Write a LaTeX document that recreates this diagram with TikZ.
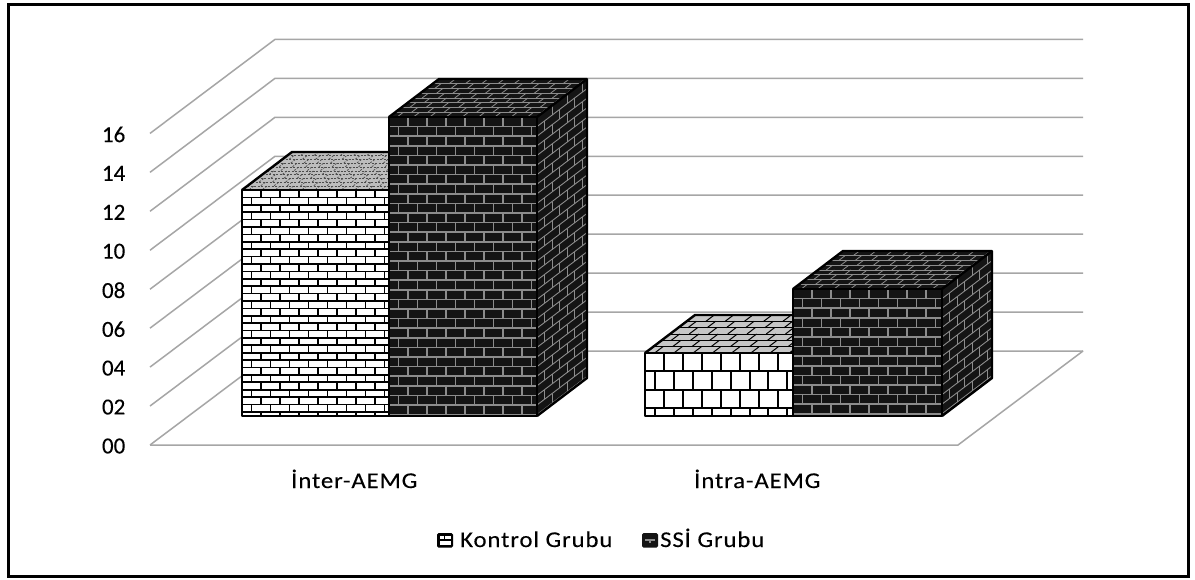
\documentclass[tikz,border=0pt]{standalone}
\usepackage{fontspec}
\setmainfont{Carlito}
\newfontfamily\labelfont{Carlito}[FakeStretch=1.1, LetterSpace=4, FakeBold=0.15]
\newfontfamily\tickfont{Carlito}[FakeBold=0.15]
\definecolor{gridgray}{HTML}{A6A6A6}
\definecolor{brickdark}{HTML}{141414}
\definecolor{mortargray}{HTML}{8C8C8C}
\definecolor{toplight}{HTML}{C6C6C6}
\definecolor{topdots}{HTML}{BDBDBD}
\tikzset{
  gridline/.style={gridgray, line width=1.5pt},
  barline/.style={black, line width=2.4pt, line join=round},
  ticklabel/.style={inner sep=0pt, anchor=east, font=\tickfont\fontsize{23}{27}\selectfont},
  catlabel/.style={inner sep=0pt, anchor=base west, font=\labelfont\fontsize{22.5}{27}\selectfont},
  legendtext/.style={inner sep=0pt, anchor=base west, font=\labelfont\fontsize{22.5}{27}\selectfont},
}
% one brick-patterned face: origin, edge vectors U and V, fill, mortar,
% row height and brick length (as fractions of the face), mortar width
\newcommand\bface[8]{%
  \begin{scope}[shift={#1}, x={#2}, y={#3}]
    \fill[#4] (0,0) -- (1,0) -- (1,1) -- (0,1) -- cycle;
    \clip (0,0) -- (1,0) -- (1,1) -- (0,1) -- cycle;
    \pgfmathsetmacro\bfNr{int(ceil(1/(#6)))}
    \pgfmathsetmacro\bfNc{int(ceil(1/(#7)))+1}
    \foreach \j in {0,...,\bfNr}{%
      \pgfmathsetmacro\bfA{1-\j*(#6)}
      \pgfmathsetmacro\bfB{1-(\j+1)*(#6)}
      \pgfmathsetmacro\bfO{mod(\j,2)*0.5}
      \draw[#5, line width=#8] (0,\bfA) -- (1,\bfA);
      \foreach \i in {0,...,\bfNc}{%
        \draw[#5, line width=#8] ({(\i+\bfO)*(#7)},\bfA) -- ({(\i+\bfO)*(#7)},\bfB);
      }
    }
  \end{scope}}
\begin{document}
\begin{tikzpicture}[x=1pt, y=-1pt]
\useasboundingbox (0,0) rectangle (1195,579);
\fill[white] (0,0) rectangle (1195,579);
% outer frame
\draw[line width=3pt] (8.5,4.5) rectangle (1188.5,576);

% walls, floor and value axis
\foreach \k in {0,...,8}{
  \pgfmathsetmacro\yf{445-38.95*\k}
  \pgfmathsetmacro\yb{351-38.95*\k}
  \draw[gridline] (150,\yf) -- (275,\yb) -- (1083,\yb);
  \node[ticklabel] (tick\k) at (125.5,\yf+1) {\ifnum\k<5 0\fi\the\numexpr2*\k\relax};
}
\coordinate (floorFL) at (150,445);
\coordinate (floorFR) at (958,445);
\coordinate (floorBR) at (1083,351);
\draw[gridline] (floorFL) -- (floorFR) -- (floorBR);

% Inter-AEMG, Kontrol Grubu
\bface{(242,416)}{(147pt,0pt)}{(0pt,226pt)}{white}{black}{7.4/226}{19/147}{1.7pt}
\bface{(242,190)}{(147pt,0pt)}{(50pt,38pt)}{topdots}{black!70, dash pattern=on 2pt off 1.5pt}{1/10}{0.09}{0.7pt}
\draw[barline] (242,416) rectangle (389,190);
\draw[barline] (242,190) -- ++(50,-38) -- ++(147,0) -- (389,190);

% Inter-AEMG, SSİ Grubu
\bface{(389,416)}{(148pt,0pt)}{(0pt,299pt)}{brickdark}{mortargray}{9.6/299}{19/148}{1.6pt}
\bface{(389,117)}{(148pt,0pt)}{(50pt,38pt)}{brickdark}{mortargray}{1/8}{0.11}{0.8pt}
\bface{(537,416)}{(50pt,38pt)}{(0pt,299pt)}{brickdark}{mortargray}{9.6/299}{0.3}{0.9pt}
\draw[barline] (389,416) rectangle (537,117);
\draw[barline] (389,117) -- ++(50,-38) -- ++(148,0) -- ++(0,299) -- ++(-50,38);
\draw[barline] (537,117) -- ++(50,-38);

% İntra-AEMG, Kontrol Grubu
\bface{(645,416)}{(148pt,0pt)}{(0pt,63pt)}{white}{black}{18.3/63}{19/148}{2pt}
\bface{(645,353)}{(148pt,0pt)}{(50pt,38pt)}{toplight}{black}{1/6}{0.13}{1pt}
\draw[barline] (645,416) rectangle (793,353);
\draw[barline] (645,353) -- ++(50,-38) -- ++(148,0);

% İntra-AEMG, SSİ Grubu
\bface{(793,416)}{(149pt,0pt)}{(0pt,127pt)}{brickdark}{mortargray}{9.6/127}{19/149}{1.6pt}
\bface{(793,289)}{(149pt,0pt)}{(50pt,38pt)}{brickdark}{mortargray}{1/8}{0.11}{0.8pt}
\bface{(942,416)}{(50pt,38pt)}{(0pt,127pt)}{brickdark}{mortargray}{9.6/127}{0.3}{0.9pt}
\draw[barline] (793,416) rectangle (942,289);
\draw[barline] (793,289) -- ++(50,-38) -- ++(149,0) -- ++(0,127) -- ++(-50,38);
\draw[barline] (942,289) -- ++(50,-38);

% category labels
\node[catlabel] (inter) at (291,488) {İnter-AEMG};
\node[catlabel] (intra) at (694,488) {İntra-AEMG};

% legend
\fill[black, rounded corners=1.5pt] (437,533) rectangle (453,547.5);
\fill[white] (439.5,535.5) rectangle (443.5,539.3);
\fill[white] (445,535.5) rectangle (450.8,539.3);
\fill[white] (439.5,541) rectangle (450.8,545);
\node[legendtext] (lgK) at (460,547) {Kontrol Grubu};
\fill[brickdark, rounded corners=1.5pt] (642,533) rectangle (658,547.5);
\fill[mortargray] (645,539.3) rectangle (655,540.8);
\fill[mortargray] (649.3,540.8) rectangle (650.8,543.2);
\node[legendtext] (lgS) at (660,547) {SSİ Grubu};
\end{tikzpicture}
\end{document}
